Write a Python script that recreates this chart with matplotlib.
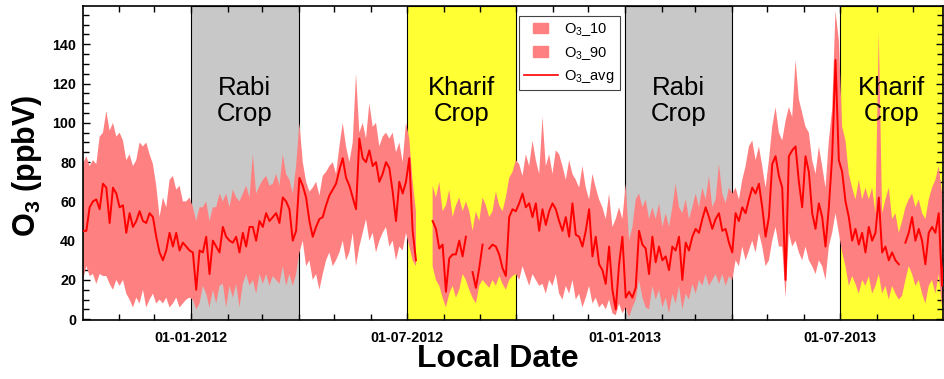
import numpy as np
import pandas as pd
import matplotlib
matplotlib.use("Agg")
import matplotlib.pyplot as plt
import matplotlib.dates as mdates
import matplotlib.patches as mpatches
from matplotlib.lines import Line2D
from matplotlib.legend_handler import HandlerPatch
from matplotlib.ticker import MultipleLocator

plt.rcParams['font.family'] = ['Liberation Sans', 'DejaVu Sans']
plt.rcParams['mathtext.fontset'] = 'custom'
plt.rcParams['mathtext.rm'] = 'Liberation Sans'
plt.rcParams['mathtext.bf'] = 'Liberation Sans:bold'
plt.rcParams['mathtext.it'] = 'Liberation Sans:italic'

nan = np.nan
# ~2.8-day samples, 2011-10-02 .. 2013-09-28
start_date = '2011-10-02'
end_date = '2013-09-28'

avg_a = [45,45,57,60,61,56,69,67,49,67, 64,57,58,44,54,47,50,55,50,49,
         54,52,42,34,30,35,44,37,44,35, 39,37,35,34,15,35,34,42,23,40,
         37,34,47,42,40,39,42,34,44,37, 47,47,40,50,47,54,50,52,54,49,
         62,60,56,40,45]
hi_a = [79,83,78,81,79,93,95,106,96,100, 93,95,91,81,84,78,81,90,88,90,
        84,79,68,52,62,57,71,73,66,68, 60,60,62,57,50,57,57,60,50,57,
        57,64,60,64,57,66,62,60,64,68, 62,84,64,68,71,73,68,69,74,68,
        84,74,71,64,78]
lo_a = [20,27,22,23,18,23,22,22,18,15, 20,17,20,13,10,6,11,8,15,6,
        10,13,8,10,8,11,6,8,11,6, 8,10,11,10,5,8,17,13,6,15,
        8,17,18,6,17,11,18,6,18,23, 17,20,13,23,18,23,17,22,20,18,
        27,17,23,17,23]

avg_b = [72,68,62,50,42,47,51,52,58,63, 66,69,76,82,72,68,62,56,92,82,
         80,86,78,80,70,74,80,77,65,50, 70,64,70,82,45,30,nan,nan,nan,nan,
         50,46,36,38,14,31,33,33,40,32, 42,nan,24,16,26,38,nan,36,38,37,
         33,26,22,52,56]
hi_b = [100,80,70,65,67,70,63,73,75,78, 80,74,88,100,88,80,90,125,95,100,
        92,110,98,100,88,93,95,92,95,85, 90,80,100,92,70,55,nan,nan,nan,nan,
        68,62,70,55,58,66,52,58,62,55, 60,55,45,55,50,62,58,52,55,65,
        58,55,62,72,75]
lo_b = [34,40,27,30,20,23,15,23,30,34, 27,30,34,40,30,34,44,27,37,44,
        51,40,44,34,40,44,47,37,40,30, 37,35,44,37,30,27,nan,nan,nan,nan,
        27,20,17,11,6,13,17,11,15,23, 20,15,11,8,17,20,18,16,20,17,
        22,18,15,20,22]

avg_c = [55,59,64,57,59,52,59,45,56,48, 55,59,56,50,45,52,42,59,43,42,
         37,45,56,32,42,28,25,18,37,15, 5,28,42,11,14,11,16,45,38,36,
         23,42,29,37,30,32,25,37,35,42, 20,39,35,42,46,44,51,57,52,46,
         51,54,45,46,39]
hi_c = [81,79,73,84,78,91,81,74,103,78, 84,74,86,84,78,71,81,74,71,67,
        78,67,61,74,67,61,57,51,64,47, 51,57,51,69,40,47,61,64,57,61,
        51,57,51,59,47,54,47,57,69,57, 54,61,51,57,64,57,67,61,73,57,
        61,79,64,59,67]
lo_c = [23,20,27,22,17,23,20,17,18,13, 20,17,23,13,10,17,13,20,10,13,
        6,11,17,8,11,6,8,5,10,3, 2,8,3,6,1,6,10,20,11,6,
        5,17,10,15,6,11,3,13,8,17, 5,13,10,18,13,20,17,23,17,20,
        23,18,23,17,22]

avg_d = [34,54,50,57,54,61,67,64,69,57, 42,52,79,83,73,67,20,83,86,88,
         70,57,83,75,54,46,59,52,37,57, 83,132,81,75,60,52,40,46,38,44,
         34,47,40,44,62,34,37,30,34,30, 28,nan,39,44,52,40,46,40,28,44,
         47,44,54,17,40]
hi_d = [64,67,61,71,78,88,91,81,88,78, 67,81,98,108,95,91,101,108,103,132,
        112,105,98,95,81,74,88,78,67,91, 107,157,142,98,91,74,67,61,71,61,
        67,61,67,54,146,54,61,67,51,54, 44,50,57,61,64,57,61,54,51,61,
        67,71,78,64,91]
lo_d = [20,30,27,37,30,35,40,34,44,37, 27,30,40,47,37,37,11,44,37,40,
        34,30,37,30,27,23,30,27,20,37, 44,54,44,34,27,17,22,18,13,20,
        17,22,13,17,23,13,17,10,17,13, 10,12,20,27,23,17,20,13,8,17,
        20,13,23,6,17]

crop_labels = ['Rabi\nCrop', 'Kharif\nCrop', 'Rabi\nCrop', 'Kharif\nCrop']
crop_starts = ['2012-01-01', '2012-07-01', '2013-01-01', '2013-07-01']
crop_ends = ['2012-04-01', '2012-10-01', '2013-04-01', '2013-10-01']
crop_colors = ['#c8c8c8', '#ffff33', '#c8c8c8', '#ffff33']

o3_avg = np.array(avg_a + avg_b + avg_c + avg_d, dtype=float)
o3_90 = np.array(hi_a + hi_b + hi_c + hi_d, dtype=float)
o3_10 = np.array(lo_a + lo_b + lo_c + lo_d, dtype=float)
dates = pd.date_range(start_date, end_date, periods=len(o3_avg))

band_color = '#ff8080'
line_color = '#ff0000'

fig = plt.figure(figsize=(9.44, 3.79), dpi=100)
ax = fig.add_axes([83/944, 59/379, 860/944, 314/379])

xmin = pd.Timestamp('2011-10-02')
xmax = pd.Timestamp('2013-09-26')

for s, e, c, lab in zip(crop_starts, crop_ends, crop_colors, crop_labels):
    s = pd.Timestamp(s); e = min(pd.Timestamp(e), xmax)
    ax.axvspan(s, e, facecolor=c, edgecolor='black', linewidth=0.8, zorder=0)
    mid = s + (e - s) / 2
    ax.text(mid, 111, lab, ha='center', va='center', fontsize=18.5,
            linespacing=1.1, color='black', zorder=4)

# O3_10 .. O3_90 band
ax.fill_between(dates, o3_10, o3_90, color=band_color, linewidth=0, zorder=2)
ax.plot(dates, o3_avg, color=line_color, linewidth=1.4, zorder=3)

ax.set_xlim(xmin, xmax)
ax.set_ylim(-0.4, 159.5)
ax.yaxis.set_minor_locator(MultipleLocator(5))
ax.set_yticks(np.arange(0, 141, 20))
ax.xaxis.set_major_locator(mdates.MonthLocator(bymonth=[1, 7]))
ax.xaxis.set_minor_locator(mdates.MonthLocator())
ax.xaxis.set_major_formatter(mdates.DateFormatter('%d-%m-%Y'))

ax.tick_params(which='both', direction='in', top=True, right=True, width=1.0)
ax.tick_params(which='major', length=5)
ax.tick_params(which='minor', length=4)
ax.tick_params(axis='y', which='major', labelsize=10.3, pad=5)
ax.tick_params(axis='x', which='major', labelsize=10.3, pad=8)
for lbl in ax.get_xticklabels() + ax.get_yticklabels():
    lbl.set_fontweight('bold')
for sp in ax.spines.values():
    sp.set_linewidth(1.2)

ax.set_xlabel('Local Date', fontsize=23, fontweight='bold')
ax.xaxis.set_label_coords((498-83)/860, -(344-320)/314)
ax.set_ylabel(r'$\mathbf{O_3}$ (ppbV)', fontsize=22, fontweight='bold')
ax.yaxis.set_label_coords(-(83-44)/860, 0.49)

def small_rect(legend, orig_handle, xdescent, ydescent, width, height, fontsize):
    w = height * 1.45
    h = height * 1.05
    return mpatches.Rectangle((-xdescent + (width - w) / 2, -ydescent + (height - h) / 2), w, h)

handles = [mpatches.Patch(color=band_color), mpatches.Patch(color=band_color),
           Line2D([], [], color=line_color, linewidth=1.2)]
labels = ['O$_3$_10', 'O$_3$_90', 'O$_3$_avg']
leg = ax.legend(handles, labels, loc='upper left',
                bbox_to_anchor=((519-83)/860, (320-16)/314), borderaxespad=0,
                fontsize=10.5, frameon=True, fancybox=False, framealpha=1,
                edgecolor='#444444', handlelength=2.3, handletextpad=0.45,
                borderpad=0.35, labelspacing=0.45,
                handler_map={mpatches.Patch: HandlerPatch(patch_func=small_rect)})
leg.get_frame().set_linewidth(0.8)
leg.set_zorder(5)

fig.savefig('out.png', dpi=100)
